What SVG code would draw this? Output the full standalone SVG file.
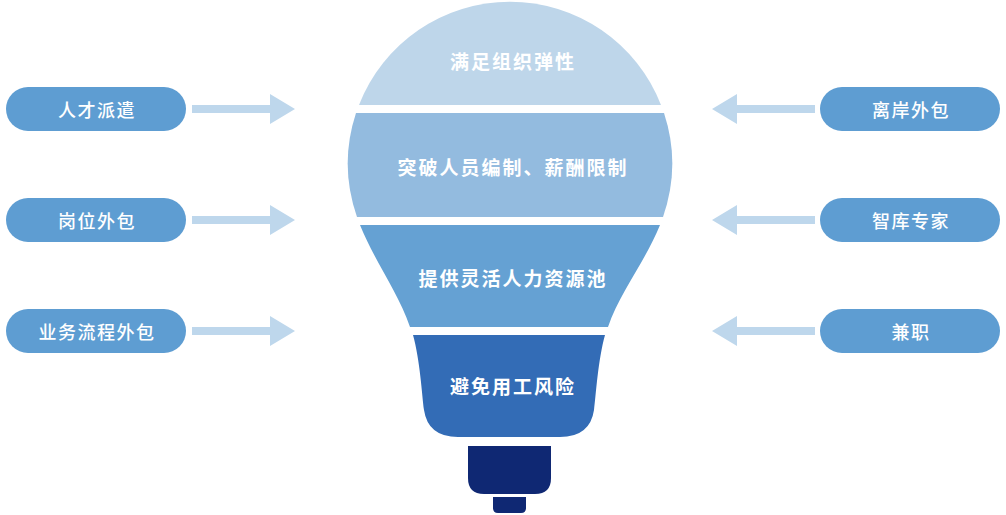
<svg xmlns="http://www.w3.org/2000/svg" width="1006" height="515" viewBox="0 0 1006 515">
<style>
.pill{fill:#5e9dd2}
.pt{fill:#fff;font-family:"Noto Sans CJK SC",sans-serif;font-size:18px;font-weight:500;letter-spacing:1.5px;text-anchor:middle;dominant-baseline:central}
.bt{fill:#fff;font-family:"Noto Sans CJK SC",sans-serif;font-size:19px;font-weight:bold;letter-spacing:2px;text-anchor:middle;dominant-baseline:central}
.arr{fill:#bed7ec}
</style>
<rect width="1006" height="515" fill="#fff"/>
<g id="bulb">
<path d="M359,105 A162,162 0 0 1 661,105 Z" fill="#bed6ea"/>
<path d="M356,113 L664,113 A162,162 0 0 1 663,217 L357,217 A162,162 0 0 1 356,113 Z" fill="#93bbdf"/>
<path d="M360,225 L660,225 C645,262 620,292 608,327 L410,327 C398,292 375,262 360,225 Z" fill="#65a1d3"/>
<path d="M413,335 L605,335 C598,360 596,395 594,410 Q590,437 560,437 L458,437 Q428,437 424,410 C422,395 420,360 413,335 Z" fill="#336cb6"/>
<path d="M468,446 H551 V478 Q551,494 535,494 H484 Q468,494 468,478 Z" fill="#0f2873"/>
<path d="M493,497 H526 V508 Q526,513 521,513 H498 Q493,513 493,508 Z" fill="#0f2873"/>
<text class="bt" x="513" y="60">满足组织弹性</text>
<text class="bt" x="513" y="166">突破人员编制、薪酬限制</text>
<text class="bt" x="513" y="277">提供灵活人力资源池</text>
<text class="bt" x="513" y="385">避免用工风险</text>
</g>
<g id="n1"><rect class="pill" x="6" y="87" width="180" height="44" rx="22"/><text class="pt" x="97" y="109">人才派遣</text></g>
<g id="n2"><rect class="pill" x="6" y="198" width="180" height="44" rx="22"/><text class="pt" x="97" y="220">岗位外包</text></g>
<g id="n3"><rect class="pill" x="6" y="309" width="180" height="44" rx="22"/><text class="pt" x="97" y="331">业务流程外包</text></g>
<g id="n4"><rect class="pill" x="820" y="87" width="180" height="44" rx="22"/><text class="pt" x="911" y="109">离岸外包</text></g>
<g id="n5"><rect class="pill" x="820" y="198" width="180" height="44" rx="22"/><text class="pt" x="911" y="220">智库专家</text></g>
<g id="n6"><rect class="pill" x="820" y="309" width="180" height="44" rx="22"/><text class="pt" x="911" y="331">兼职</text></g>
<g id="connectors">
<path class="arr" d="M192,105 H270 V94 L295,109 L270,124 V113 H192 Z"/>
<path class="arr" d="M192,216 H270 V205 L295,220 L270,235 V224 H192 Z"/>
<path class="arr" d="M192,327 H270 V316 L295,331 L270,346 V335 H192 Z"/>
<path class="arr" d="M815,105 H737 V94 L712,109 L737,124 V113 H815 Z"/>
<path class="arr" d="M815,216 H737 V205 L712,220 L737,235 V224 H815 Z"/>
<path class="arr" d="M815,327 H737 V316 L712,331 L737,346 V335 H815 Z"/>
</g>
</svg>
